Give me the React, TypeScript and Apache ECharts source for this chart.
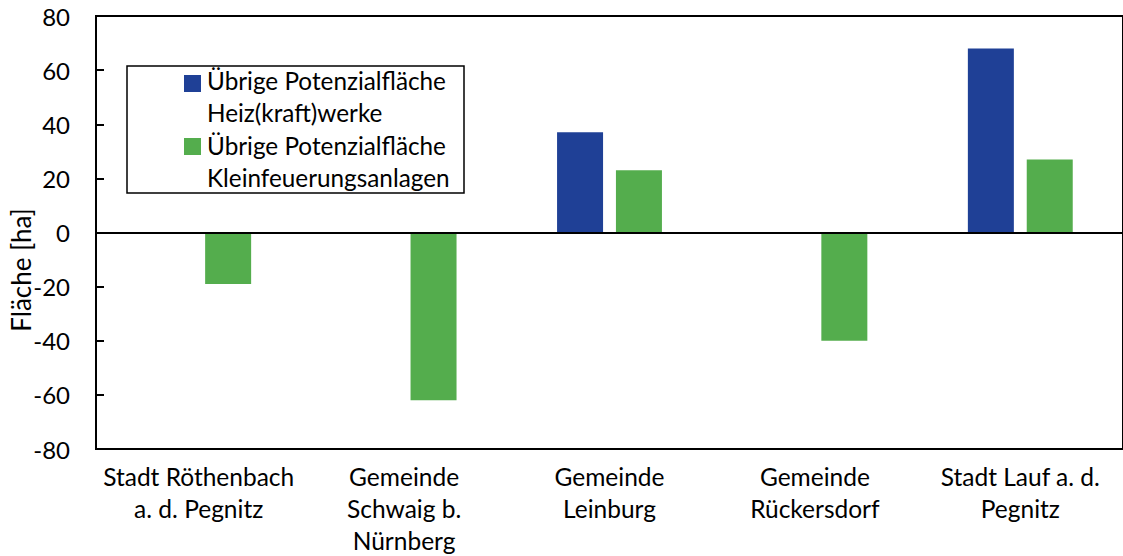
import React, { useEffect, useRef } from "react";
import * as echarts from "echarts";

const categories = [
  "Stadt Röthenbach\na. d. Pegnitz",
  "Gemeinde\nSchwaig b.\nNürnberg",
  "Gemeinde\nLeinburg",
  "Gemeinde\nRückersdorf",
  "Stadt Lauf a. d.\nPegnitz",
];
const heizwerke = [0, 0, 37, 0, 68];
const kleinfeuerung = [-19, -62, 23, -40, 27];
const seriesNames = [
  "Übrige Potenzialfläche\nHeiz(kraft)werke",
  "Übrige Potenzialfläche\nKleinfeuerungsanlagen",
];
const yMin = -80;
const yMax = 80;
const yInterval = 20;
const yAxisName = "Fläche [ha]";

const BLUE = "#1f4096";
const GREEN = "#54ad4d";
const FONT = "Lato";

export default function App() {
  const ref = useRef<HTMLDivElement>(null);
  useEffect(() => {
    if (!ref.current) return;
    const chart = echarts.init(ref.current, null, { renderer: "svg" });
    const legendFont = 24.3;
    chart.setOption({
      animation: false,
      backgroundColor: "#ffffff",
      grid: {
        left: 96,
        top: 16,
        right: -7,
        bottom: 101,
        show: true,
        borderColor: "#000",
        borderWidth: 2,
        containLabel: false,
      },
      xAxis: {
        type: "category",
        data: categories,
        axisLine: { onZero: false, lineStyle: { color: "#000", width: 2 } },
        axisTick: { show: false },
        axisLabel: {
          interval: 0,
          color: "#000",
          fontFamily: FONT,
          fontSize: 24.5,
          lineHeight: 32,
          margin: 11,
        },
        splitLine: { show: false },
      },
      yAxis: {
        type: "value",
        min: yMin,
        max: yMax,
        interval: yInterval,
        axisLine: { show: true, lineStyle: { color: "#000", width: 2 } },
        axisTick: { show: true, inside: true, length: 8, lineStyle: { color: "#000", width: 2 } },
        axisLabel: { color: "#000", fontFamily: FONT, fontSize: 24, margin: 26 },
        splitLine: { show: false },
      },
      series: [
        {
          name: seriesNames[0],
          type: "bar",
          data: heizwerke,
          barWidth: 46,
          barGap: "28%",
          itemStyle: { color: BLUE },
          markLine: {
            silent: true,
            symbol: "none",
            label: { show: false },
            lineStyle: { color: "#000", width: 2, type: "solid" },
            data: [{ yAxis: 0 }],
          },
        },
        {
          name: seriesNames[1],
          type: "bar",
          data: kleinfeuerung,
          barWidth: 46,
          barGap: "28%",
          itemStyle: { color: GREEN },
        },
      ],
      graphic: [
        {
          type: "text",
          x: 21,
          y: 270,
          rotation: Math.PI / 2,
          style: {
            text: yAxisName,
            fill: "#000",
            fontFamily: FONT,
            fontSize: 26,
            align: "center",
            verticalAlign: "middle",
          },
        },
        {
          type: "rect",
          shape: { x: 127, y: 66, width: 337, height: 127 },
          style: { fill: "#fff", stroke: "#000", lineWidth: 1.5 },
          z: 100,
        },
        {
          type: "rect",
          shape: { x: 184, y: 75, width: 17, height: 17 },
          style: { fill: BLUE },
          z: 101,
        },
        {
          type: "rect",
          shape: { x: 184, y: 138, width: 17, height: 17 },
          style: { fill: GREEN },
          z: 101,
        },
        {
          type: "text",
          x: 207,
          y: 65,
          style: {
            text: seriesNames[0],
            fill: "#000",
            fontFamily: FONT,
            fontSize: legendFont,
            lineHeight: 31.5,
            verticalAlign: "top",
            align: "left",
          },
          z: 101,
        },
        {
          type: "text",
          x: 207,
          y: 130,
          style: {
            text: seriesNames[1],
            fill: "#000",
            fontFamily: FONT,
            fontSize: legendFont,
            lineHeight: 31.5,
            verticalAlign: "top",
            align: "left",
          },
          z: 101,
        },
      ],
    });
    return () => chart.dispose();
  }, []);
  return (
    <div
      ref={ref}
      style={{ position: "fixed", left: 0, top: 0, width: 1123, height: 556 }}
    />
  );
}
